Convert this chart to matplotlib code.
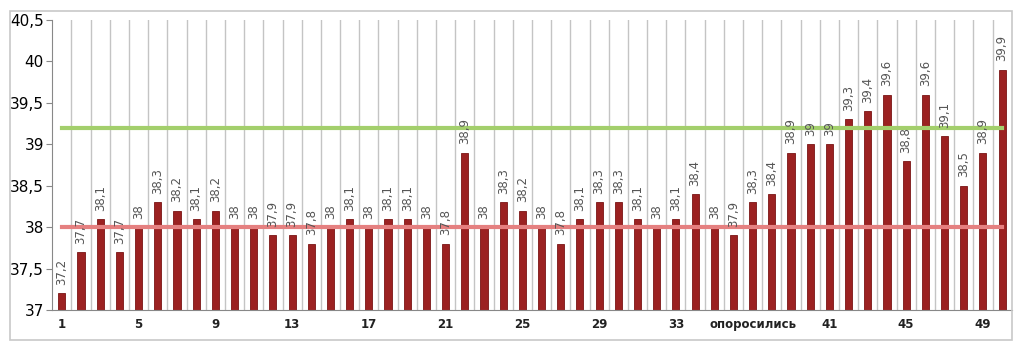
import numpy as np
import matplotlib.pyplot as plt
from matplotlib.patches import Rectangle

# температура по дням
temps = [37.2, 37.7, 38.1, 37.7, 38.0, 38.3, 38.2, 38.1, 38.2, 38.0,
         38.0, 37.9, 37.9, 37.8, 38.0, 38.1, 38.0, 38.1, 38.1, 38.0,
         37.8, 38.9, 38.0, 38.3, 38.2, 38.0, 37.8, 38.1, 38.3, 38.3,
         38.1, 38.0, 38.1, 38.4, 38.0, 37.9, 38.3, 38.4, 38.9, 39.0,
         39.0, 39.3, 39.4, 39.6, 38.8, 39.6, 39.1, 38.5, 38.9, 39.9]
norm_low = 38.0
norm_high = 39.2
tick_pos = [1, 5, 9, 13, 17, 21, 25, 29, 33, 37, 41, 45, 49]
tick_lbl = ["1", "5", "9", "13", "17", "21", "25", "29", "33", "опоросились", "41", "45", "49"]
yticks = [37, 37.5, 38, 38.5, 39, 39.5, 40, 40.5]

x = np.arange(1, len(temps) + 1)

fig = plt.figure(figsize=(10.24, 3.51), dpi=100)
ax = fig.add_axes([0.051, 0.117, 0.937, 0.826])

# рамка вокруг графика
fig.patches.append(Rectangle((0.010, 0.03), 0.978, 0.94, transform=fig.transFigure,
                             fill=False, edgecolor='#c8c8c8', linewidth=1.2))

# вертикальная сетка между категориями
for b in np.arange(1.5, len(temps) + 0.5, 1):
    ax.axvline(b, color='#c4c4c4', linewidth=1.0, zorder=0)

ax.bar(x, [t - 37 for t in temps], bottom=37, width=0.37,
       color='#9b2121', edgecolor='#7a1515', linewidth=0.6, zorder=2)

ax.plot([x[0], x[-1]], [norm_high, norm_high], color='#a3cf6c', linewidth=3, zorder=3)
ax.plot([x[0], x[-1]], [norm_low, norm_low], color='#e58080', linewidth=3, zorder=3)

for xi, t in zip(x, temps):
    lbl = ("%g" % t).replace('.', ',')
    ax.text(xi, t + 0.1, lbl, rotation=90, ha='center', va='bottom',
            fontsize=8.5, color='#555555', zorder=4)

ax.set_xlim(0.5, len(temps) + 0.5)
ax.set_ylim(37, 40.5)
ax.set_yticks(yticks)
ax.set_yticklabels([("%g" % v).replace('.', ',') for v in yticks], fontsize=11)
ax.set_xticks(tick_pos)
ax.set_xticklabels(tick_lbl, fontsize=8.5, fontweight='bold', color='#222222')
ax.tick_params(axis='x', length=0, pad=6)
ax.tick_params(axis='y', length=4, color='#888888', pad=2)

for side in ['top', 'right']:
    ax.spines[side].set_visible(False)
ax.spines['left'].set_color('#888888')
ax.spines['bottom'].set_color('#888888')

plt.savefig('out.png', dpi=100)
